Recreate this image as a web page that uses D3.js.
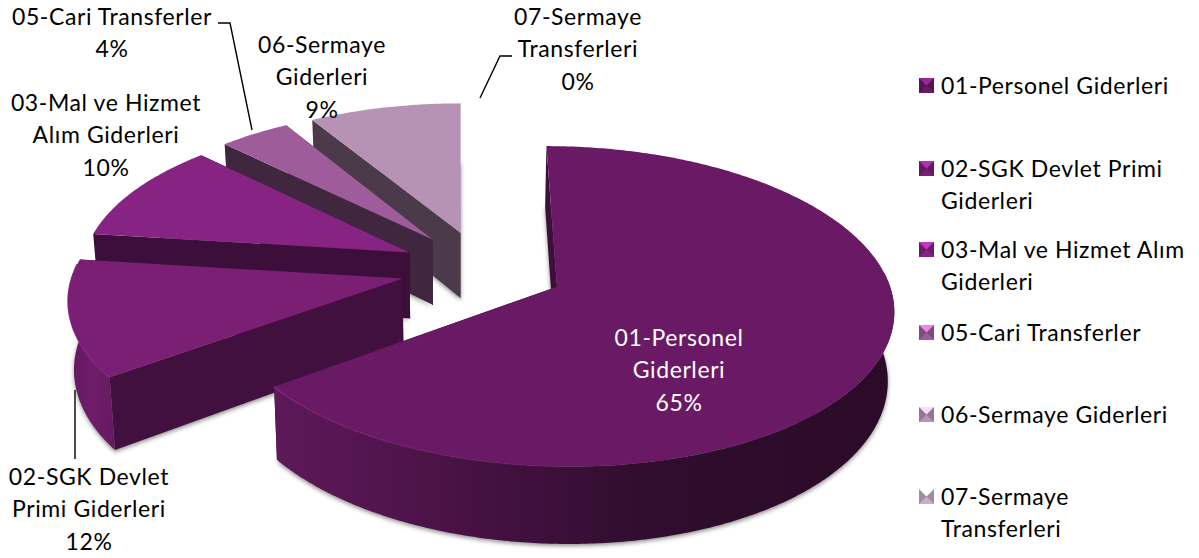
<!DOCTYPE html>
<html><head><meta charset="utf-8">
<script src="https://cdn.jsdelivr.net/npm/d3@7/dist/d3.min.js"></script>
<style>html,body{margin:0;padding:0;background:#fff}svg{display:block}text{font-family:Lato,"Open Sans",sans-serif;font-size:23px;letter-spacing:.6px;fill:#000}</style>
</head><body><svg id="c" width="1199" height="558"></svg>
<script>
// ---- data
const categories = ["01-Personel Giderleri","02-SGK Devlet Primi Giderleri","03-Mal ve Hizmet Alım Giderleri","05-Cari Transferler","06-Sermaye Giderleri","07-Sermaye Transferleri"];
const values = [65,12,10.45,4,8.55,0];
const percents = ["65%","12%","10%","4%","9%","0%"];
const topColors = ["#6a1a65","#7a1f74","#862383","#9e5c9a","#b692b5","#c9aec8"];
const faceColors = ["#3d0f3a","#42103f","#3c0f3a","#40263f","#4a3a4a","#4a3a4a"];
const labelLines = [["01-Personel","Giderleri","65%"],["02-SGK Devlet","Primi Giderleri","12%"],["03-Mal ve Hizmet","Alım Giderleri","10%"],["05-Cari Transferler","4%"],["06-Sermaye","Giderleri","9%"],["07-Sermaye","Transferleri","0%"]];
const legendLines = [["01-Personel Giderleri"],["02-SGK Devlet Primi","Giderleri"],["03-Mal ve Hizmet Alım","Giderleri"],["05-Cari Transferler"],["06-Sermaye Giderleri"],["07-Sermaye","Transferleri"]];

// ---- layout
const labelCentres = [[679,338],[89,477],[106,103],[112,17],[322,45],[578,17]];
const legendY = [86,169,250,333,415,497];
const leaders = [[[218,23],[230,23],[252,130]],[[75,390],[75,459]],[[512,56],[500,56],[480,98]]];
const explode=.25, persp=.121, vx=460, depth=67;
const xs=d3.scaleLinear().domain([0,1]).range([482.5,811]);
const ys=d3.scaleLinear().domain([0,1]).range([269,422.5]);
const svg=d3.select("#c");
const defs=svg.append("defs");
defs.append("filter").attr("id","soft").attr("x","-10%").attr("y","-10%").attr("width","120%").attr("height","120%")
  .append("feGaussianBlur").attr("stdDeviation",2.2);
const g1=defs.append("linearGradient").attr("id","wall0").attr("gradientUnits","userSpaceOnUse").attr("x1",275).attr("x2",892).attr("y1",0).attr("y2",0);
[[0,"#5d1958"],[.2,"#50144c"],[.4,"#40103d"],[.6,"#300d2e"],[1,"#2b0b28"]].forEach(s=>g1.append("stop").attr("offset",s[0]).attr("stop-color",s[1]));
const g2=defs.append("linearGradient").attr("id","wall1").attr("gradientUnits","userSpaceOnUse").attr("x1",66).attr("x2",115).attr("y1",0).attr("y2",0);
[[0,"#5e1859"],[.5,"#701c6b"],[1,"#651a60"]].forEach(s=>g2.append("stop").attr("offset",s[0]).attr("stop-color",s[1]));
const g3=defs.append("linearGradient").attr("id","rim0").attr("gradientUnits","userSpaceOnUse").attr("x1",275).attr("x2",640).attr("y1",0).attr("y2",0);
[[0,"#8f3389",1],[1,"#6a1a65",0]].forEach(s=>g3.append("stop").attr("offset",s[0]).attr("stop-color",s[1]).attr("stop-opacity",s[2]));

const line=d3.line();
const arcs=d3.pie().sort(null).value(d=>d)(values);
function project(a,mid,h){
  const wx=Math.sin(a)+explode*Math.sin(mid), wv=-Math.cos(a)-explode*Math.cos(mid);
  const s=1/(1-persp*wv);
  const k=1-.015*h;
  return [vx+(xs(wx)-vx)*s*k, ys(wv*s)+depth*s*h];
}
function apex(mid,h){
  const wx=explode*Math.sin(mid), wv=-explode*Math.cos(mid), s=1/(1-persp*wv), k=1-.015*h;
  return [vx+(xs(wx)-vx)*s*k, ys(wv*s)+depth*s*h];
}
function samples(a0,a1){const n=Math.max(2,Math.ceil((a1-a0)/.01));return d3.range(n+1).map(i=>a0+(a1-a0)*i/n);}
const order=[4,3,2,1,0];
const pieG=svg.append("g");
order.forEach(i=>{
  const d=arcs[i]; if(d.value===0) return;
  const mid=(d.startAngle+d.endAngle)/2, A=samples(d.startAngle,d.endAngle);
  const g=pieG.append("g");
  // ground shadow of the lower face
  g.append("path").attr("d",line([apex(mid,1),...A.map(a=>project(a,mid,1))])+"Z").attr("fill","#555").attr("opacity",.65).attr("filter","url(#soft)").attr("transform","translate(0,2)");
  // radial walls
  [d.startAngle,d.endAngle].forEach(a=>{
    g.append("path").attr("d",line([apex(mid,0),project(a,mid,0),project(a,mid,1),apex(mid,1)])+"Z").attr("fill",faceColors[i]);
  });
  // outer wall, only where it faces the viewer
  const lo=Math.max(d.startAngle,Math.PI*.47), hi=Math.min(d.endAngle,Math.PI*1.53);
  if(hi>lo){
    const W=samples(lo,hi);
    g.append("path").attr("d",line([...W.map(a=>project(a,mid,0)),...W.slice().reverse().map(a=>project(a,mid,1))])+"Z").attr("fill",i<2?`url(#wall${i})`:topColors[i]);
    if(i<2){
      const R=samples(Math.max(lo,i===0?Math.PI*.75:lo),hi);
      g.append("path").attr("d",line(R.map(a=>project(a,mid,0)))).attr("fill","none").attr("stroke",i===0?"url(#rim0)":"#93308c").attr("stroke-width",1.6);
    }
  }
  // top
  g.append("path").attr("d",line([apex(mid,0),...A.map(a=>project(a,mid,0))])+"Z").attr("fill",topColors[i]);
});
// leader lines
leaders.forEach(p=>svg.append("path").attr("d",line(p)).attr("fill","none").attr("stroke","#000").attr("stroke-width",1.4));
// data labels
labelLines.forEach((ls,i)=>{
  ls.forEach((t,j)=>svg.append("text").attr("x",labelCentres[i][0]).attr("y",labelCentres[i][1]+j*32.3).attr("dy","0.35em").attr("text-anchor","middle").style("fill",i===0?"#fff":"#000").text(t));
});
// legend
legendY.forEach((y,i)=>{
  const g=svg.append("g").attr("transform",`translate(919,${y-8})`), c=d3.color(topColors[i]), S=15;
  g.append("rect").attr("width",S).attr("height",S).attr("fill",c.darker(.6));
  g.append("path").attr("d",line([[0,0],[S,0],[S/2,S/2]])+"Z").attr("fill",c.brighter(1.1));
  g.append("path").attr("d",line([[0,S],[S,S],[S/2,S/2]])+"Z").attr("fill",c);
  legendLines[i].forEach((t,j)=>svg.append("text").attr("x",941).attr("y",y+j*32).attr("dy","0.35em").text(t));
});
</script></body></html>
